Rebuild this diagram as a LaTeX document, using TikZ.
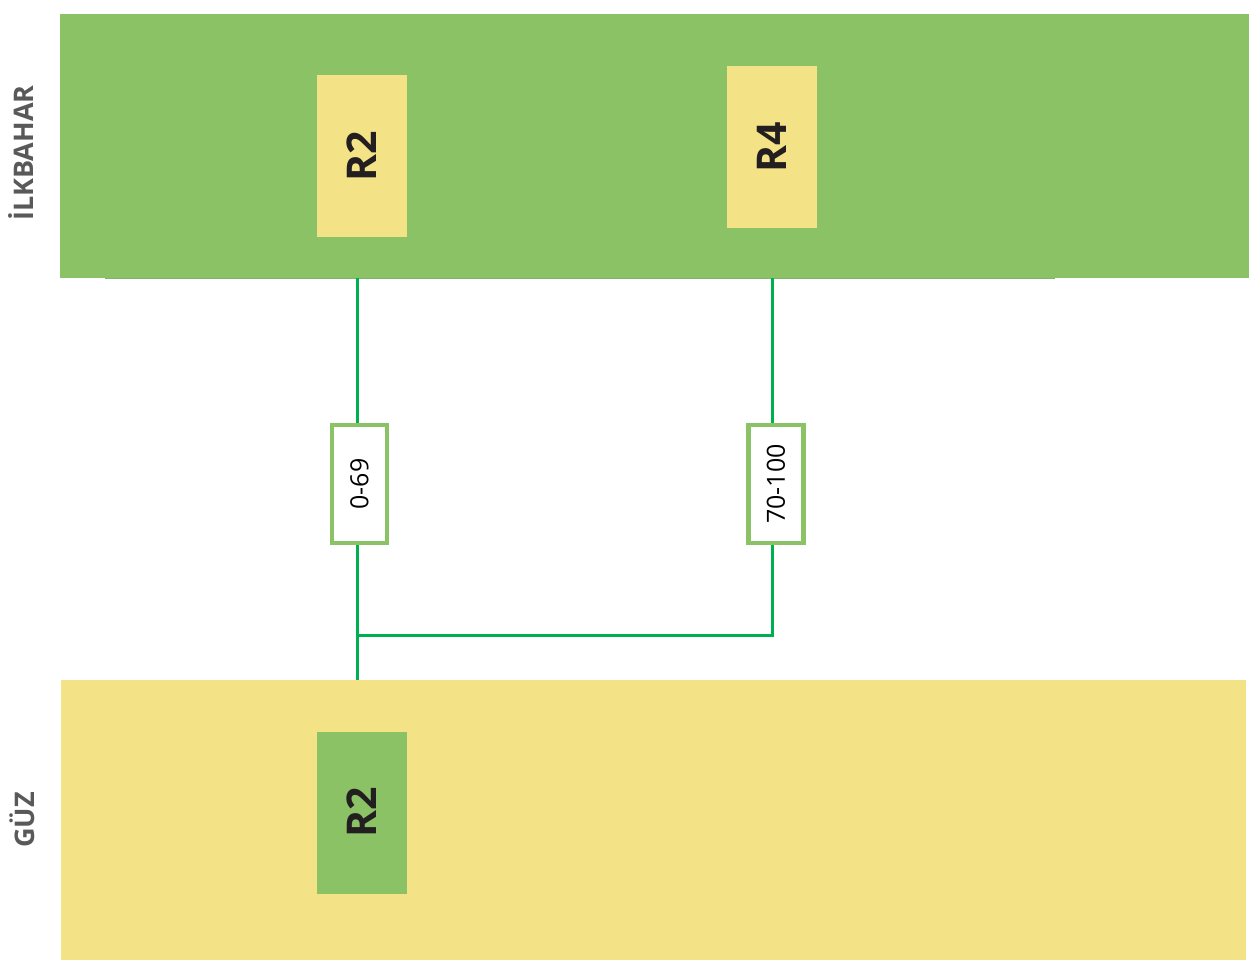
\documentclass[tikz,border=0pt]{standalone}
\usepackage{fontspec}
\setmainfont{Open Sans}
\usepackage{graphicx}
\definecolor{bandgreen}{HTML}{8BC265}
\definecolor{bandyellow}{HTML}{F4E287}
\definecolor{linegreen}{HTML}{00B050}
\definecolor{shadowgreen}{HTML}{80B46C}
\definecolor{labelgray}{HTML}{595959}
\definecolor{darktext}{HTML}{231F20}
\begin{document}
\begin{tikzpicture}[x=1pt,y=-1pt,
  band/.style={fill=#1, draw=none, inner sep=0pt, anchor=north west},
  rbox/.style={fill=#1, draw=none, inner sep=0pt, minimum width=90pt, minimum height=162pt,
    font=\fontsize{41}{46}\selectfont\bfseries, text=darktext},
  lbox/.style={fill=white, draw=bandgreen, line width=4.5pt, inner sep=0pt,
    minimum width=55pt, minimum height=118pt, font=\fontsize{25}{29}\selectfont},
  season/.style={font=\fontsize{27}{30}\selectfont\bfseries, text=labelgray, inner sep=0pt},
  conn/.style={draw=linegreen, line width=3pt}]
\useasboundingbox (0,0) rectangle (1249,974);
% bands
\node[band=bandgreen, minimum width=1189pt, minimum height=264pt] (spring) at (60,14) {};
\node[band=bandyellow, minimum width=1185pt, minimum height=280pt] (autumn) at (61,680) {};
\draw[shadowgreen, line width=1pt] (105,278.3) -- (1055,278.3);
% season labels
\node[season] (lspring) at (21,153) {\rotatebox{90}{İLKBAHAR}};
\node[season] (lautumn) at (22,820) {\rotatebox{90}{GÜZ}};
% boxes
\node[rbox=bandyellow] (r2a) at (362,156) {\rotatebox{90}{R2}};
\node[rbox=bandyellow] (r4) at (772,147) {\rotatebox{90}{R4}};
\node[rbox=bandgreen] (r2b) at (362,812.5) {\rotatebox{90}{R2}};
% range labels
\node[lbox] (l1) at (359.5,484) {\rotatebox{90}{0-69}};
\node[lbox] (l2) at (776,484) {\rotatebox{90}{70-100}};
% connectors
\coordinate (t1) at (357,278);
\coordinate (t2) at (772,278);
\coordinate (j) at (357,635);
\coordinate (b1) at (357,680);
\draw[conn] (t1) -- (t1 |- l1.north);
\draw[conn] (t2) -- (t2 |- l2.north);
\draw[conn] (t1 |- l1.south) -- (b1);
\draw[conn] (t2 |- l2.south) -- (t2 |- j) -- (j);
\end{tikzpicture}
\end{document}
